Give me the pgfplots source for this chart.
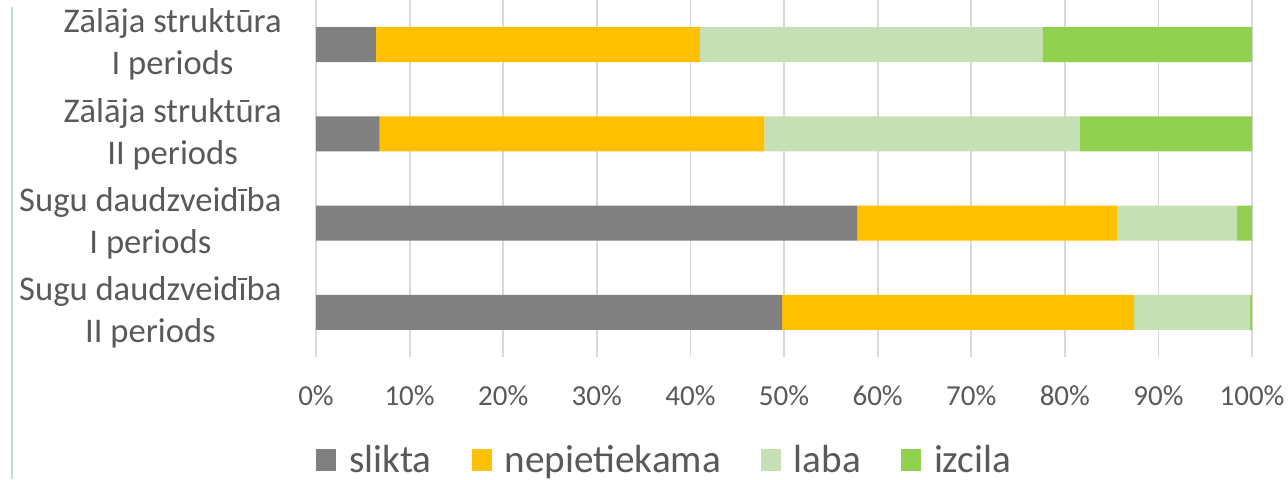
\documentclass[border=0pt]{standalone}
\usepackage{fontspec}
\setmainfont{Carlito}
\usepackage{pgfplots}
\pgfplotsset{compat=1.18}
\definecolor{txt}{RGB}{89,89,89}
\definecolor{gridc}{RGB}{217,217,217}
\definecolor{slikta}{RGB}{128,128,128}
\definecolor{nepiet}{RGB}{255,192,0}
\definecolor{laba}{RGB}{197,224,180}
\definecolor{izcila}{RGB}{146,208,80}
\definecolor{edge}{RGB}{190,222,210}

% shares per row, in %
\pgfplotstableread{
row slikta nepiet laba izcila
0 6.4 34.6 36.6 22.4
1 6.8 41.1 33.7 18.4
2 57.8 27.8 12.8 1.6
3 49.8 37.6 12.4 0.2
}\shares

\begin{document}
\begin{tikzpicture}
  \begin{axis}[
    at={(158pt,61pt)}, anchor=south west,
    width=468pt, height=178.5pt, scale only axis,
    xbar stacked, bar width=17.5pt,
    xmin=0, xmax=100, ymin=-0.5, ymax=3.5,
    y dir=reverse,
    axis line style={draw=none},
    major tick length=0pt,
    xmajorgrids, grid style={draw=gridc, line width=0.9pt},
    xtick={0,10,...,100},
    xticklabels={0\%,10\%,20\%,30\%,40\%,50\%,60\%,70\%,80\%,90\%,100\%},
    xticklabel style={anchor=base, yshift=-24pt, inner sep=0pt,
      font=\fontsize{14.5}{17}\selectfont, text=txt},
    ytick={0,1,2,3},
    yticklabels={{Zālāja struktūra\\I periods},{Zālāja struktūra\\II periods},
      {Sugu daudzveidība\\I periods},{Sugu daudzveidība\\II periods}},
    yticklabel style={anchor=east, xshift=-17pt, inner sep=0pt, align=center,
      font=\fontsize{17.3}{21}\selectfont, text=txt},
    legend columns=-1,
    legend image code/.code={\fill[#1] (0pt,-5.5pt) rectangle (10pt,5.5pt);},
    legend style={at={(0.3713,-0.2885)}, anchor=center, draw=none,
      font=\fontsize{19.6}{22}\selectfont, text=txt,
      nodes={inner sep=0pt},
      /tikz/every odd column/.append style={column sep=6.5pt},
      /tikz/every even column/.append style={column sep=20pt}},
  ]
    \addplot[fill=slikta, draw=none] table[x=slikta, y=row] {\shares};
    \addplot[fill=nepiet, draw=none] table[x=nepiet, y=row] {\shares};
    \addplot[fill=laba, draw=none] table[x=laba, y=row] {\shares};
    \addplot[fill=izcila, draw=none] table[x=izcila, y=row] {\shares};
    \legend{slikta, nepietiekama, laba, izcila}
  \end{axis}
  \draw[edge, line width=1.25pt] (6pt,0pt) -- (6pt,236pt);
  \pgfresetboundingbox
  \path (0pt,0pt) rectangle (644pt,239.5pt);
\end{tikzpicture}
\end{document}
